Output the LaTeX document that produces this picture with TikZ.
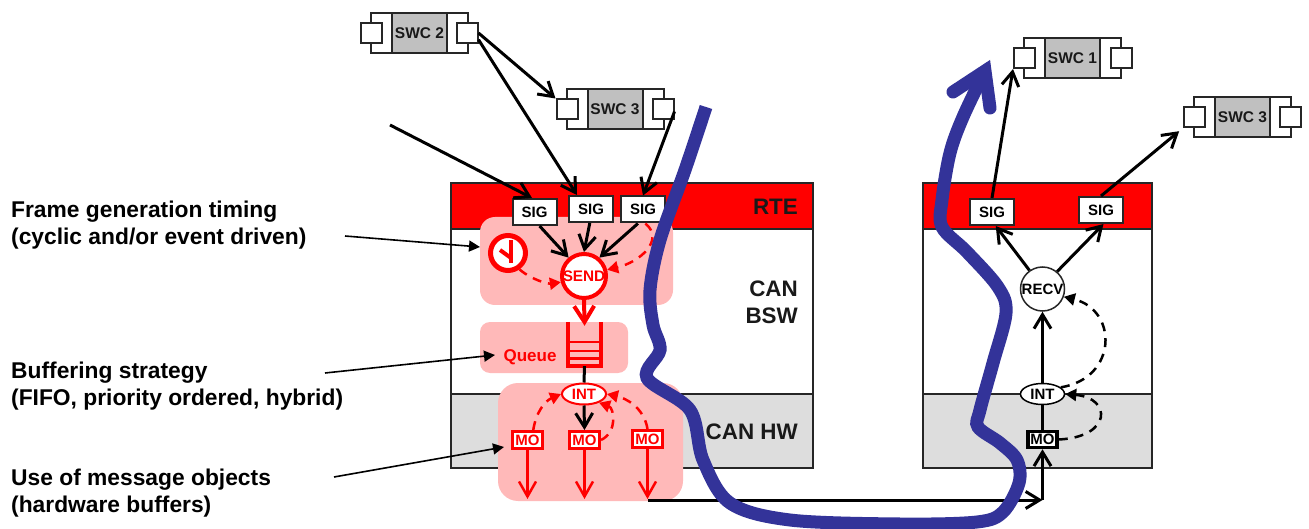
\documentclass[tikz,border=0pt]{standalone}
\usepackage{fontspec}
\setmainfont{Liberation Sans}
\usepackage{tikz}
\usetikzlibrary{arrows.meta,shapes.geometric}
\definecolor{rtered}{RGB}{255,0,0}
\definecolor{hwgray}{RGB}{221,221,221}
\definecolor{swcgray}{RGB}{192,192,192}
\definecolor{hilite}{RGB}{255,185,185}
\definecolor{flowblue}{RGB}{51,51,153}

\begin{document}
\begin{tikzpicture}[
    x=1pt, y=-1pt,
    layerbox/.style={draw=black!85, line width=2pt, inner sep=0pt, minimum width=#1},
    hilitebox/.style={fill=hilite, inner sep=0pt, rounded corners=#1},
    swcbody/.style={draw=black!85, line width=2pt, fill=white, inner sep=0pt, minimum width=97pt, minimum height=40pt},
    swccore/.style={draw=black!85, line width=2pt, fill=swcgray, inner sep=0pt, minimum width=55pt, minimum height=40pt, font=\bfseries\fontsize{15.5}{18}\selectfont, text=black!90},
    swcport/.style={draw=black!85, line width=2pt, fill=white, inner sep=0pt, minimum width=21pt, minimum height=20pt},
    sigbox/.style={draw=black!85, line width=2pt, fill=white, inner sep=0pt, minimum width=44pt, minimum height=26pt, font=\bfseries\fontsize{15}{17}\selectfont},
    mobox/.style={draw=rtered, line width=3pt, fill=white, inner sep=0pt, minimum width=30pt, minimum height=17pt, text=rtered, font=\bfseries\fontsize{15}{17}\selectfont},
    intoval/.style={ellipse, draw=#1, line width=2pt, fill=white, inner sep=0pt, minimum width=44pt, minimum height=21pt, text=#1, font=\bfseries\fontsize{15}{18}\selectfont},
    lbl/.style={align=left, anchor=west, inner sep=0pt, font=\bfseries\fontsize{22.8}{27}\selectfont},
    layerlbl/.style={align=right, anchor=east, inner sep=0pt, text=black!90, font=\bfseries\fontsize{22.4}{27}\selectfont},
    arr/.style={-{Straight Barb[length=14pt,width=17pt]}, line width=3pt, black},
    redarr/.style={-{Straight Barb[length=15pt,width=17pt]}, line width=2.5pt, rtered},
    dasharr/.style={-{Triangle[length=11pt,width=12pt]}, line width=2.5pt, dash pattern=on 9pt off 7pt, #1},
    callout/.style={-{Triangle[length=11pt,width=11pt]}, line width=1.6pt, black},
    flow/.style={line width=13pt, flowblue}
]
\useasboundingbox (0,0) rectangle (1309,529);

% stacks
\node[layerbox=362pt, minimum height=46pt, fill=rtered] (rtel) at (632,206) {};
\node[layerbox=362pt, minimum height=165pt, fill=white] (bswl) at (632,311.5) {};
\node[layerbox=362pt, minimum height=74pt, fill=hwgray] (hwl) at (632,431) {};
\node[layerbox=229pt, minimum height=46pt, fill=rtered] (rter) at (1037.5,206) {};
\node[layerbox=229pt, minimum height=165pt, fill=white] (bswr) at (1037.5,311.5) {};
\node[layerbox=229pt, minimum height=74pt, fill=hwgray] (hwr) at (1037.5,431) {};

\node[hilitebox=15pt, minimum width=193pt, minimum height=88pt] (sendarea) at (576.5,261) {};
\node[hilitebox=10pt, minimum width=148pt, minimum height=51pt] (queuearea) at (554,347.5) {};
\node[hilitebox=20pt, minimum width=185pt, minimum height=118pt] (moarea) at (590.5,442) {};

\node[layerlbl] (rtelbl) at (798,207) {RTE};
\node[layerlbl] (bswlbl) at (798,302) {CAN\\BSW};
\node[layerlbl] (hwlbl) at (798,432) {CAN HW};

% left side texts
\node[lbl] (framelbl) at (11,225) {Frame generation timing\\(cyclic and/or event driven)};
\node[lbl] (buflbl) at (11,386.5) {Buffering strategy\\(FIFO, priority ordered, hybrid)};
\node[lbl] (uselbl) at (11,493.5) {Use of message objects\\(hardware buffers)};

% software components
\node[swcbody] (swctwo) at (419.5,33) {};
\node[swccore] (swctwoC) at (419.5,33) {SWC 2};
\node[swcport] (swctwoL) at (371.5,33) {};
\node[swcport] (swctwoR) at (467,33) {};
\node[swcbody] (swcthree) at (615,109.5) {};
\node[swccore] (swcthreeC) at (615,109.5) {SWC 3};
\node[swcport] (swcthreeL) at (567,109.5) {};
\node[swcport] (swcthreeR) at (663,109.5) {};
\node[swcbody] (swcone) at (1072.5,58) {};
\node[swccore] (swconeC) at (1072.5,58) {SWC 1};
\node[swcport] (swconeL) at (1024.5,58) {};
\node[swcport] (swconeR) at (1121,58) {};
\node[swcbody] (swcfour) at (1242.5,117) {};
\node[swccore] (swcfourC) at (1242.5,117) {SWC 3};
\node[swcport] (swcfourL) at (1194.5,117) {};
\node[swcport] (swcfourR) at (1290.5,117) {};

% sender
\node[sigbox] (siga) at (534.5,212) {SIG};
\node[sigbox] (sigb) at (591,209) {SIG};
\node[sigbox] (sigc) at (643,209.5) {SIG};
\node[circle, draw=rtered, line width=4pt, fill=white, inner sep=0pt, minimum size=44pt, text=rtered, font=\bfseries\fontsize{15.3}{18}\selectfont] (send) at (584,276) {SEND};
\node[circle, draw=rtered, line width=5pt, fill=white, inner sep=0pt, minimum size=35pt] (clock) at (508,253) {};
\draw[rtered, line width=4pt] (511,240) -- (511,263);
\draw[rtered, line width=4pt] (500,250) -- (511,258);

\node[inner sep=0pt, text=rtered, font=\bfseries\fontsize{17}{20}\selectfont] (queuelbl) at (530,357) {Queue};
\node[inner sep=0pt, minimum width=33pt, minimum height=44pt] (queue) at (584.5,344) {};
\draw[rtered, line width=4pt] (queue.north west) -- (queue.south west) -- (queue.south east) -- (queue.north east);
\draw[rtered, line width=2.5pt] (568,342) -- (601,342) (568,351) -- (601,351) (568,358.5) -- (601,358.5);

\node[intoval=rtered] (intl) at (584,394) {INT};
\node[mobox] (moa) at (527.5,440) {MO};
\node[mobox] (mob) at (584.5,440) {MO};
\node[mobox] (moc) at (647.5,439) {MO};
\coordinate (moaend) at (527.5,499);
\coordinate (mobend) at (584.5,499);
\coordinate (mocend) at (647.5,499);

% receiver
\node[sigbox] (sigd) at (992,212) {SIG};
\node[sigbox] (sige) at (1101,210) {SIG};
\node[circle, draw=black!85, line width=1.5pt, fill=white, inner sep=0pt, minimum size=44pt, font=\bfseries\fontsize{15}{18}\selectfont] (recv) at (1042.5,289) {RECV};
\node[intoval=black, line width=1.5pt] (intr) at (1042.5,394) {INT};
\node[draw=black, line width=3.5pt, fill=white, inner sep=0pt, minimum width=29pt, minimum height=16pt, font=\bfseries\fontsize{15}{17}\selectfont] (mor) at (1042.5,439.5) {MO};
\coordinate (busa) at (648,500);
\coordinate (busb) at (1042.5,500);

% connectors, upper part
\coordinate (extsig) at (390,125);
\draw[arr] (swctwoR.east) -- (swcthreeL.north west);
\draw[arr] (swctwoR.-30) -- (sigb.135);
\draw[arr] (swcthreeR.-10) -- (sigc.north);
\draw[arr] (extsig) -- (siga.100);
\draw[arr] (siga.-70) -- (send.130);
\draw[arr] (sigb.-95) -- (send.90);
\draw[arr] (sigc.-110) -- (send.50);

% connectors, sender
\draw[redarr, line width=4pt, shorten >=-4pt, -{Straight Barb[length=16pt,width=20pt]}] (send.south) -- (queue.north);
\draw[line width=3pt] (queue.south) -- (intl.north);
\draw[arr] (intl.south) -- (mob.north);
\draw[redarr] (moa.south) -- (moaend);
\draw[redarr] (mob.south) -- (mobend);
\draw[redarr] (moc.south) -- (mocend);
\draw[dasharr=rtered] (clock.-55) .. controls (532,280) and (548,284) .. (send.195);
\draw[dasharr=rtered] (sigc.-80) .. controls (665,240) and (640,262) .. (send.15);
\draw[dasharr=rtered] (moa.60) .. controls (536,412) and (545,401) .. (intl.west);
\draw[dasharr=rtered] (mob.east) .. controls (618,432) and (614,408) .. (intl.-30);
\draw[dasharr=rtered] (moc.north) .. controls (644,407) and (625,398) .. (intl.east);

% connectors, receiver
\draw[arr] (busa) -- (busb);
\draw[arr] (busb) -- (mor.south);
\draw[line width=2.5pt] (mor.north) -- (intr.south);
\draw[arr] (intr.north) -- (recv.south);
\draw[arr] (recv.125) -- (sigd.-75);
\draw[arr] (recv.50) -- (sige.-80);
\draw[arr] (sigd.north) -- (swconeL.south west);
\draw[arr, shorten >=5pt] (sige.north) -- (swcfourL.south west);
\draw[dasharr=black] (mor.east) .. controls (1112,437) and (1112,398) .. (intr.east);
\draw[dasharr=black] (intr.20) .. controls (1118,378) and (1118,310) .. (recv.-20);

% callouts
\coordinate (framefrom) at (345,236);
\coordinate (frameto) at (480,247);
\coordinate (buffrom) at (325,373);
\coordinate (bufto) at (495,355);
\coordinate (usefrom) at (334,477);
\coordinate (useto) at (504,447);
\draw[callout] (framefrom) -- (frameto);
\draw[callout] (buffrom) -- (bufto);
\draw[callout] (usefrom) -- (useto);

% data path
\coordinate (flowtip) at (985,71);
\draw[flow] plot[smooth, tension=0.55] coordinates {(706,107) (685,170) (660,240) (650,290) (653,325) (660,350) (647,378) (690,410) (703,460) (730,503) (790,520) (900,524) (977,522) (1003,512) (1019,483) (1017,460) (1000,443) (978,427) (980,410) (993,363) (1006,313) (998,287) (967,252) (942,227) (942,200) (950,153) (963,117) (flowtip)};
\draw[flow, line cap=round, line join=miter] (953,92) -- (flowtip) -- (990,108);
\end{tikzpicture}
\end{document}
